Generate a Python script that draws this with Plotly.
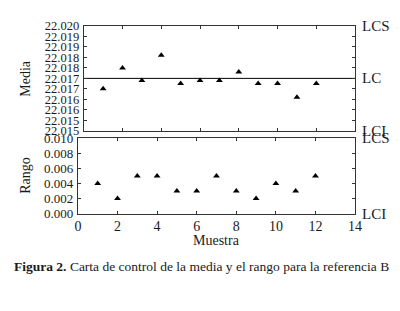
import plotly.graph_objects as go

muestra = [1, 2, 3, 4, 5, 6, 7, 8, 9, 10, 11, 12]
media = [22.0170, 22.0180, 22.0174, 22.0186, 22.01725, 22.0174, 22.0174, 22.0178, 22.01725, 22.01725, 22.0166, 22.01725]
rango = [0.004, 0.002, 0.005, 0.005, 0.003, 0.003, 0.005, 0.003, 0.002, 0.004, 0.003, 0.005]

media_lcs, media_lc, media_lci = 22.020, 22.0175, 22.015
rango_lcs, rango_lci = 0.010, 0.000

media_tickvals = [22.015, 22.0155, 22.016, 22.0165, 22.017, 22.0175, 22.018, 22.0185, 22.019, 22.0195, 22.020]
media_ticktext = ["22.015", "22.015", "22.016", "22.016", "22.017", "22.017", "22.018", "22.018", "22.019", "22.019", "22.020"]
rango_tickvals = [0.000, 0.002, 0.004, 0.006, 0.008, 0.010]
rango_ticktext = ["0.000", "0.002", "0.004", "0.006", "0.008", "0.010"]
x_tickvals = [0, 2, 4, 6, 8, 10, 12, 14]

W, H = 400, 311
FONT = "Liberation Serif"
INK = "#1a1a1a"

def px_x(p):
    return p / W

def px_y(p):
    return 1 - p / H

fig = go.Figure()
fig.add_trace(go.Scatter(x=muestra, y=media, mode="markers", xaxis="x", yaxis="y",
                         marker=dict(symbol="triangle-up", size=6, color="black"), showlegend=False))
fig.add_trace(go.Scatter(x=[0, 14], y=[media_lc, media_lc], mode="lines", xaxis="x", yaxis="y",
                         line=dict(color="black", width=1), showlegend=False, hoverinfo="skip"))
fig.add_trace(go.Scatter(x=muestra, y=rango, mode="markers", xaxis="x2", yaxis="y2",
                         marker=dict(symbol="triangle-up", size=6, color="black"), showlegend=False))

axis_common = dict(showline=True, linecolor="#333", linewidth=1, mirror="ticks", ticks="inside",
                   ticklen=3, tickcolor="#333", showgrid=False, zeroline=False)

fig.update_layout(
    width=W, height=H, margin=dict(l=0, r=0, t=0, b=0),
    paper_bgcolor="white", plot_bgcolor="white",
    xaxis=dict(domain=[px_x(82), px_x(361)], range=[0, 14], tickvals=x_tickvals,
               showticklabels=False, anchor="y", **axis_common),
    yaxis=dict(domain=[px_y(130), px_y(20)], range=[media_lci, media_lcs], tickvals=media_tickvals,
               ticktext=media_ticktext, anchor="x", ticklabelstandoff=1,
               tickfont=dict(family=FONT, size=12.5, color=INK), **axis_common),
    xaxis2=dict(domain=[px_x(76), px_x(361)], range=[0, 14], tickvals=x_tickvals,
                anchor="y2", tickfont=dict(family=FONT, size=14, color=INK), **axis_common),
    yaxis2=dict(domain=[px_y(217), px_y(138)], range=[rango_lci, rango_lcs], tickvals=rango_tickvals,
                ticktext=rango_ticktext, anchor="x2", ticklabelstandoff=1,
                tickfont=dict(family=FONT, size=13, color=INK), **axis_common),
)

ann = []
lab_font = dict(family=FONT, size=15, color=INK)
for txt, yv, yr in [("LCS", media_lcs, "y"), ("LC", media_lc, "y"), ("LCI", media_lci, "y"),
                    ("LCS", rango_lcs, "y2"), ("LCI", rango_lci, "y2")]:
    ann.append(dict(text=txt, x=px_x(366), xref="paper", y=yv, yref=yr, xanchor="left",
                    yanchor="middle", showarrow=False, font=lab_font))
ann.append(dict(text="Media", x=px_x(22), y=px_y(75), xref="paper", yref="paper", textangle=-90,
                xanchor="center", yanchor="middle",
                showarrow=False, font=dict(family=FONT, size=14, color=INK)))
ann.append(dict(text="Rango", x=px_x(22), y=px_y(177), xref="paper", yref="paper", textangle=-90,
                xanchor="center", yanchor="middle",
                showarrow=False, font=dict(family=FONT, size=14, color=INK)))
ann.append(dict(text="Muestra", x=px_x(218), y=px_y(245), xref="paper", yref="paper",
                xanchor="center", yanchor="middle",
                showarrow=False, font=dict(family=FONT, size=14, color=INK)))
ann.append(dict(text="<b>Figura 2.</b> Carta de control de la media y el rango para la referencia B",
                x=px_x(8), y=px_y(273), xref="paper", yref="paper", xanchor="left", yanchor="middle",
                showarrow=False, font=dict(family=FONT, size=13.5, color=INK)))
fig.update_layout(annotations=ann)

fig.write_html("out.html", post_script="document.body.style.margin='0';",
               config={"displayModeBar": False})
